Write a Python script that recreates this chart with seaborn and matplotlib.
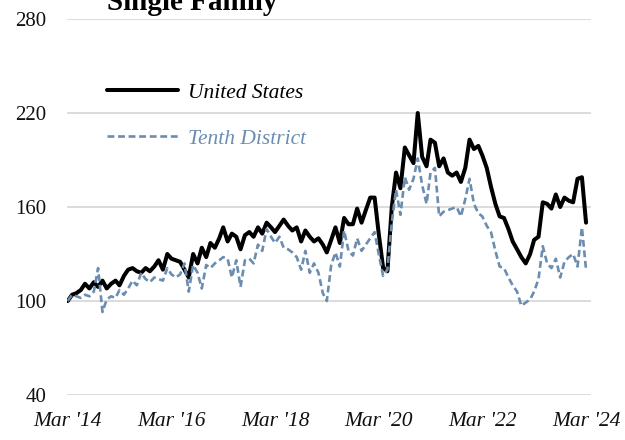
import numpy as np
import pandas as pd
import matplotlib
matplotlib.use("Agg")
import matplotlib.pyplot as plt
import seaborn as sns

# ---- data (index, Mar 2014 = 100), monthly Mar 2014 .. Mar 2024 ----
start_month = "2014-03-01"
n_months = 121

united_states = [
    100, 104, 105, 107, 111, 108, 112, 109, 113, 108,
    111, 113, 110, 116, 120, 121, 119, 118, 121, 119,
    122, 126, 120, 130, 127, 126, 125, 120, 115, 130,
    124, 134, 128, 137, 134, 140, 147, 138, 143, 141,
    133, 142, 144, 141, 147, 143, 150, 147, 144, 148,
    152, 148, 145, 147, 138, 145, 141, 138, 140, 136,
    131, 139, 147, 137, 153, 149, 149, 159, 150, 158,
    166, 166, 143, 121, 119, 160, 182, 172, 198, 193,
    188, 220, 192, 186, 203, 201, 186, 191, 182, 180,
    182, 176, 185, 203, 197, 199, 193, 185, 173, 162,
    154, 153, 146, 138, 133, 128, 124, 130, 139, 141,
    163, 162, 159, 168, 160, 166, 164, 163, 178, 179,
    150,
]

tenth_district = [
    100, 104, 103, 102, 104, 103, 106, 121, 93, 101,
    103, 102, 107, 104, 108, 113, 110, 118, 114, 112,
    115, 114, 113, 121, 117, 115, 117, 124, 106, 123,
    118, 108, 123, 121, 124, 126, 128, 127, 115, 126,
    109, 126, 127, 124, 136, 132, 146, 141, 137, 141,
    134, 133, 131, 128, 120, 132, 118, 124, 118, 105,
    100, 123, 131, 122, 145, 132, 129, 140, 132, 136,
    140, 144, 130, 116, 120, 150, 171, 155, 179, 171,
    178, 191, 174, 162, 182, 185, 154, 157, 158, 159,
    160, 154, 165, 178, 162, 156, 154, 148, 144, 132,
    122, 121, 115, 110, 106, 97, 99, 101, 106, 114,
    135, 124, 121, 127, 115, 125, 128, 130, 122, 147,
    120,
]

series_names = ["United States", "Tenth District"]
title_text = "Single Family"
y_ticks = [40, 100, 160, 220, 280]
x_tick_labels = ["Mar '14", "Mar '16", "Mar '18", "Mar '20", "Mar '22", "Mar '24"]

# ---- build frame ----
dates = pd.date_range(start_month, periods=n_months, freq="MS")
df = pd.DataFrame({"date": dates,
                   series_names[0]: united_states,
                   series_names[1]: tenth_district})

sns.set_theme(style="white")
plt.rcParams["font.family"] = ["Liberation Serif", "DejaVu Serif"]

fig = plt.figure(figsize=(6.25, 4.40), dpi=100)
ax = fig.add_axes([67 / 625, 1 - 395 / 440, 524 / 625, 376 / 440])

blue = "#6b8db0"
sns.lineplot(data=df, x="date", y=series_names[0], ax=ax, color="black",
             linewidth=2.9, label=series_names[0])
sns.lineplot(data=df, x="date", y=series_names[1], ax=ax, color=blue,
             linewidth=1.9, linestyle=(0, (2.6, 1.4)), label=series_names[1])

ax.set_ylim(40, 280)
ax.set_yticks(y_ticks)
ax.set_xlim(pd.Timestamp("2014-02-24"), pd.Timestamp("2024-04-05"))
tick_dates = [pd.Timestamp(f"{y}-03-01") for y in range(2014, 2025, 2)]
ax.set_xticks(tick_dates)
ax.set_xticklabels(x_tick_labels, fontstyle="italic")
ax.set_xlabel("")
ax.set_ylabel("")

ax.grid(axis="y", color="#d9d9d9", linewidth=1.3)
ax.grid(axis="x", visible=False)
ax.set_axisbelow(True)
for s in ax.spines.values():
    s.set_visible(False)
ax.tick_params(axis="y", labelsize=15, pad=15, length=0, labelcolor="#111111")
ax.tick_params(axis="x", labelsize=15.5, pad=12, length=0, labelcolor="#111111")

leg = ax.legend(loc="upper left", bbox_to_anchor=(0.076, 0.83), frameon=False,
                borderaxespad=0, borderpad=0, handlelength=3.3, handletextpad=0.45,
                labelspacing=1.2, prop={"family": ["Liberation Serif"], "style": "italic", "size": 15.5})
for txt, col in zip(leg.get_texts(), ["black", blue]):
    txt.set_color(col)

fig.text(192 / 625, 1 - 10 / 440, title_text, ha="center", va="baseline",
         fontsize=21, fontweight="bold", color="black")

fig.savefig("out.png", dpi=100)
